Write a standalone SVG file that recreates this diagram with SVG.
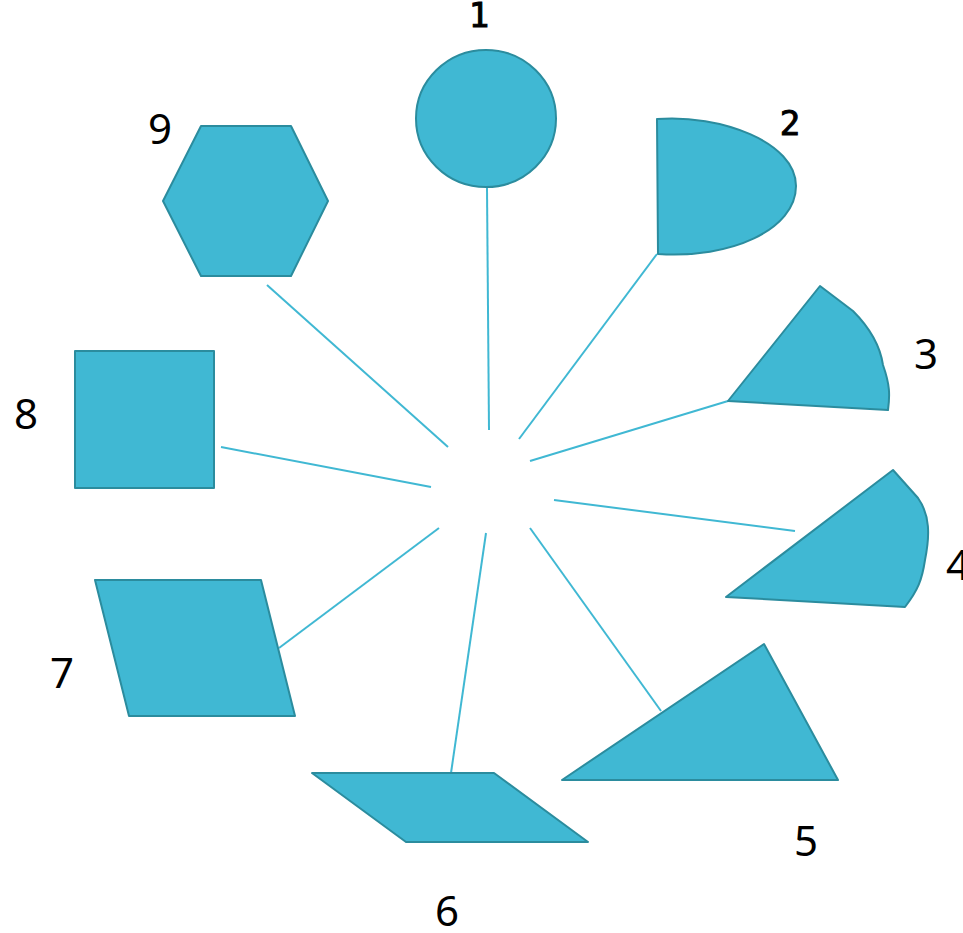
<svg xmlns="http://www.w3.org/2000/svg" width="963" height="933" viewBox="0 0 963 933">
<style>
.s{fill:#40B8D3;stroke:#2B8C9E;stroke-width:2;stroke-linejoin:round}
.c{stroke:#40B8D3;stroke-width:2;fill:none}
.t{font-family:"Noto Sans","Open Sans","Liberation Sans",sans-serif;font-size:42px;fill:#000;text-anchor:middle}
.m{font-family:"DejaVu Sans Mono","Liberation Mono",monospace;font-size:34px;fill:#000;stroke:#000;stroke-width:1;text-anchor:middle}
</style>
<rect width="963" height="933" fill="#fff"/>
<g id="connectors">
<line class="c" x1="487" y1="188" x2="489" y2="430"/>
<line class="c" x1="657" y1="254" x2="519" y2="439"/>
<line class="c" x1="728" y1="401" x2="530" y2="461"/>
<line class="c" x1="795" y1="531" x2="554" y2="500"/>
<line class="c" x1="661" y1="711" x2="530" y2="528"/>
<line class="c" x1="451" y1="773" x2="486" y2="533"/>
<line class="c" x1="279" y1="648" x2="439" y2="528"/>
<line class="c" x1="221" y1="447" x2="431" y2="487"/>
<line class="c" x1="267" y1="285" x2="448" y2="447"/>
</g>
<g id="n1"><ellipse class="s" cx="486" cy="118.5" rx="70" ry="68.5"/><text class="m" x="479" y="27">1</text></g>
<g id="n2"><path class="s" d="M657,119 C720,114 796,142 796,186 C796,230 730,259 658,254 Z"/><text class="m" x="790" y="135">2</text></g>
<g id="n3"><path class="s" d="M728,401 L820,286 L853,311 C870,328 880,345 883,365 C890,385 890,395 888,410 Z"/><text class="t" x="926" y="369">3</text></g>
<g id="n4"><path class="s" d="M726,597 L893,470 L918,498 C930,515 930,535 925,560 C922,580 918,590 905,607 Z"/><text class="t" x="946" y="580" style="text-anchor:start">4</text></g>
<g id="n5"><path class="s" d="M562,780 L764,644 L838,780 Z"/><text class="t" x="806" y="856">5</text></g>
<g id="n6"><path class="s" d="M312,773 L494,773 L588,842 L406,842 Z"/><text class="t" x="447" y="926">6</text></g>
<g id="n7"><path class="s" d="M95,580 L261,580 L295,716 L129,716 Z"/><text class="t" x="62" y="688">7</text></g>
<g id="n8"><rect class="s" x="75" y="351" width="139" height="137"/><text class="t" x="26" y="429">8</text></g>
<g id="n9"><path class="s" d="M201,126 L291,126 L328,201 L291,276 L201,276 L163,201 Z"/><text class="t" x="160" y="144">9</text></g>
</svg>
